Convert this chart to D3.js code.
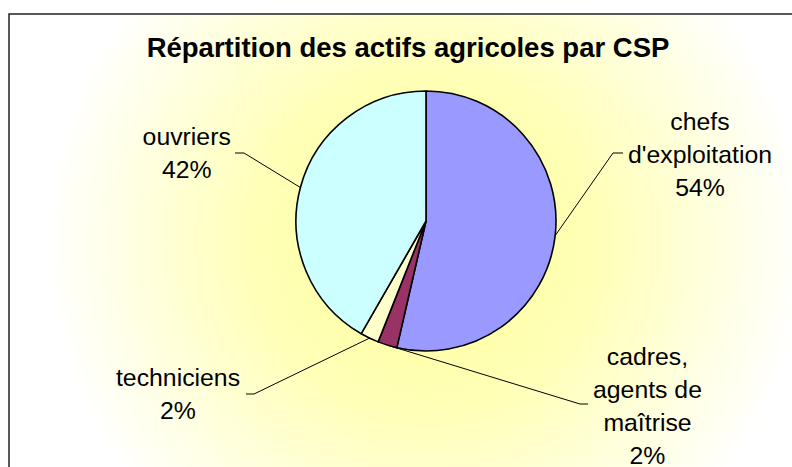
<!DOCTYPE html>
<html>
<head>
<meta charset="utf-8">
<script src="https://cdn.jsdelivr.net/npm/d3@7"></script>
<style>
  html, body { margin: 0; padding: 0; background: #fff; }
  svg { display: block; }
</style>
</head>
<body>
<svg id="chart"></svg>
<script>
// データ
var categories = ["chefs d'exploitation", "cadres, agents de maîtrise", "techniciens", "ouvriers"];
var values = [53.6, 2.4, 2.3, 41.7];
var labelLines = [["chefs", "d'exploitation"], ["cadres,", "agents de", "maîtrise"], ["techniciens"], ["ouvriers"]];
var colors = ["#9999FF", "#993366", "#FFFFCC", "#CCFFFF"];
var title = "Répartition des actifs agricoles par CSP";

// 表示サイズ
var size = { width: 792, height: 467 };
var center = { x: 426, y: 221 };
var radius = 130;
var lineHeight = 33;

// ラベル位置 (中心からのオフセット: テキスト中心x, 1行目ベースライン, 引出線の端点)
var labelLayout = [
  { tx: 274, ty: -91, stub: [197, -68], elbow: [187, -68] },
  { tx: 221.5, ty: 144, stub: [162, 183], elbow: [154, 183] },
  { tx: -248, ty: 165, stub: [-180, 173], elbow: [-172, 173] },
  { tx: -239.3, ty: -76, stub: [-191, -68], elbow: [-182, -68] }
];

var svg = d3.select("#chart")
  .attr("width", size.width)
  .attr("height", size.height);

// 背景グラデーション
var defs = svg.append("defs");
var grad = defs.append("radialGradient")
  .attr("id", "bg")
  .attr("gradientUnits", "userSpaceOnUse")
  .attr("cx", center.x)
  .attr("cy", center.y + 20)
  .attr("r", 380);
grad.append("stop").attr("offset", "0%").attr("stop-color", "#FFFF99");
grad.append("stop").attr("offset", "45%").attr("stop-color", "#FFFFB8");
grad.append("stop").attr("offset", "100%").attr("stop-color", "#FFFFFF");

svg.append("rect")
  .attr("x", 9)
  .attr("y", 14)
  .attr("width", size.width)
  .attr("height", size.height)
  .attr("fill", "url(#bg)")
  .attr("stroke", "#222")
  .attr("stroke-width", 1.5);

// タイトル
svg.append("text")
  .attr("x", 408)
  .attr("y", 57)
  .attr("text-anchor", "middle")
  .attr("font-family", "'Liberation Sans', Arial, sans-serif")
  .attr("font-weight", "bold")
  .attr("font-size", "27.5px")
  .attr("fill", "#000")
  .text(title);

// 円グラフ
var total = d3.sum(values);
var pie = d3.pie()
  .sort(null)
  .value(function(d){ return d; });
var arcs = pie(values);

var arc = d3.arc()
  .innerRadius(0)
  .outerRadius(radius);

var g = svg.append("g")
  .attr("transform", "translate(" + center.x + "," + center.y + ")");

g.selectAll("path.slice")
  .data(arcs)
  .enter()
  .append("path")
  .attr("class", "slice")
  .attr("d", arc)
  .attr("fill", function(d, i){ return colors[i]; })
  .attr("stroke", "#000")
  .attr("stroke-width", 1.6)
  .attr("stroke-linejoin", "round");

// 引出線 (円周上の中点から)
var edgeArc = d3.arc()
  .innerRadius(radius)
  .outerRadius(radius);

var leader = d3.line();

g.selectAll("path.leader")
  .data(arcs)
  .enter()
  .append("path")
  .attr("class", "leader")
  .attr("d", function(d, i){
    var c = edgeArc.centroid(d);
    var L = labelLayout[i];
    return leader([L.stub, L.elbow, c]);
  })
  .attr("fill", "none")
  .attr("stroke", "#000")
  .attr("stroke-width", 1);

// ラベル
var pct = d3.format(".0%");
var labels = g.selectAll("text.label")
  .data(arcs)
  .enter()
  .append("text")
  .attr("class", "label")
  .attr("text-anchor", "middle")
  .attr("font-family", "'Liberation Sans', Arial, sans-serif")
  .attr("font-size", "24.8px")
  .attr("fill", "#000");

labels.each(function(d, i){
  var t = d3.select(this);
  var L = labelLayout[i];
  var lines = labelLines[i].concat([pct(d.data / total)]);
  lines.forEach(function(s, k){
    t.append("tspan")
      .attr("x", L.tx)
      .attr("y", L.ty + k * lineHeight)
      .text(s);
  });
});
</script>
</body>
</html>
